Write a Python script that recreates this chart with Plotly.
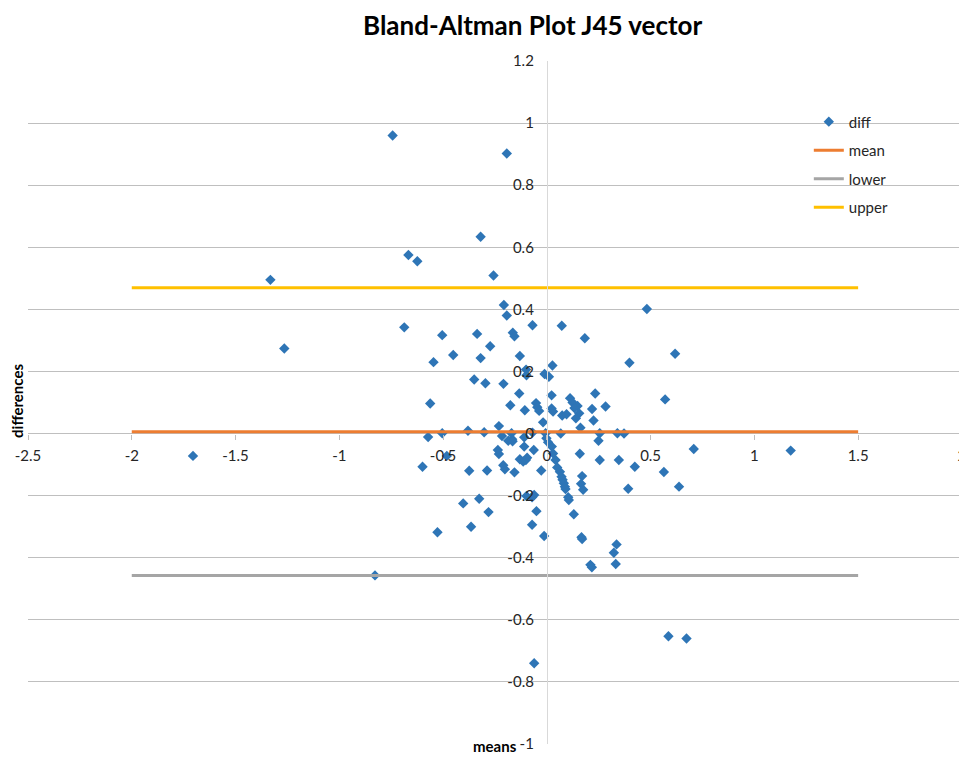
import plotly.graph_objects as go

# Bland-Altman: means (x) vs differences (y)
means = [
    -1.705, -1.332, -1.265, -0.743, -0.828, -0.667, -0.624, -0.193, -0.319, -0.257,
    -0.687, -0.504, -0.546, -0.451, -0.562, -0.336, -0.319, -0.273, -0.350, -0.296,
    -0.209, -0.207, -0.193, -0.164, -0.156, -0.069, -0.130, -0.100, -0.098, -0.133,
    -0.176, -0.106, -0.052, -0.046, -0.037, -0.018, -0.011, -0.231, -0.380, -0.302,
    -0.069, -0.504, -0.572, -0.216, -0.170, 0.482, 0.072, 0.183, 0.618, 0.398,
    0.027, 0.010, 0.023, 0.233, 0.112, 0.124, 0.148, 0.133, 0.218, 0.283,
    0.570, 0.023, 0.030, 0.074, 0.095, 0.156, 0.140, 0.225, 0.162, -0.006,
    0.067, 0.255, 0.340, 0.372, -0.167, -0.186, -0.165, -0.109, -0.002, 0.006,
    0.249, 0.708, -0.482, -0.236, -0.231, -0.109, -0.063, 0.024, 0.030, 0.159,
    0.255, 0.347, -0.130, -0.114, -0.101, -0.095, -0.599, -0.374, -0.288, -0.210,
    -0.202, -0.156, -0.027, 0.042, 0.050, 0.063, 0.170, 0.424, 0.564, 0.071,
    0.076, 0.082, 0.087, 0.090, 0.103, 0.106, 0.130, 0.167, 0.170, 0.210,
    0.217, 0.336, 0.323, 0.332, 0.165, 0.175, 0.392, 0.637, -0.061, -0.071,
    -0.098, -0.050, -0.071, -0.013, -0.326, -0.403, -0.281, -0.365, -0.527, 1.175,
    0.586, 0.673, -0.061,
]
differences = [
    -0.072, 0.495, 0.274, 0.960, -0.457, 0.575, 0.555, 0.902, 0.634, 0.509,
    0.342, 0.317, 0.230, 0.253, 0.097, 0.321, 0.243, 0.281, 0.174, 0.162,
    0.160, 0.414, 0.380, 0.325, 0.313, 0.349, 0.250, 0.206, 0.188, 0.129,
    0.091, 0.075, 0.098, 0.085, 0.073, 0.036, 0.192, 0.024, 0.009, 0.004,
    0.003, 0.001, -0.011, -0.008, 0.001, 0.401, 0.347, 0.307, 0.257, 0.228,
    0.219, 0.183, 0.123, 0.129, 0.114, 0.100, 0.089, 0.082, 0.079, 0.087,
    0.110, 0.081, 0.071, 0.058, 0.062, 0.065, 0.049, 0.042, 0.019, 0.001,
    0.000, 0.001, 0.001, 0.000, -0.018, -0.023, -0.025, -0.012, -0.015, -0.028,
    -0.023, -0.050, -0.072, -0.053, -0.066, -0.042, -0.053, -0.042, -0.064, -0.065,
    -0.085, -0.085, -0.083, -0.090, -0.085, -0.078, -0.107, -0.120, -0.119, -0.102,
    -0.115, -0.125, -0.119, -0.085, -0.109, -0.123, -0.137, -0.107, -0.124, -0.139,
    -0.149, -0.160, -0.171, -0.179, -0.205, -0.214, -0.260, -0.334, -0.340, -0.423,
    -0.431, -0.357, -0.384, -0.420, -0.162, -0.181, -0.178, -0.171, -0.198, -0.205,
    -0.201, -0.250, -0.294, -0.330, -0.210, -0.225, -0.253, -0.300, -0.318, -0.055,
    -0.653, -0.660, -0.740,
]

# reference lines (mean and limits of agreement)
line_x = [-2.0, 1.5]
mean_diff = 0.006
lower_limit = -0.457
upper_limit = 0.470

x_tick_vals = [-2.5, -2, -1.5, -1, -0.5, 0, 0.5, 1, 1.5, 2]
x_tick_text = ["-2.5", "-2", "-1.5", "-1", "-0.5", "0", "0.5", "1", "1.5", "2"]
y_tick_vals = [-1, -0.8, -0.6, -0.4, -0.2, 0, 0.2, 0.4, 0.6, 0.8, 1, 1.2]
y_tick_text = ["-1", "-0.8", "-0.6", "-0.4", "-0.2", "0", "0.2", "0.4", "0.6", "0.8", "1", "1.2"]

FONT = "Lato, 'Open Sans', sans-serif"

fig = go.Figure()
fig.add_trace(go.Scatter(
    x=means, y=differences, mode="markers", name="diff", legendgroup="a",
    marker=dict(symbol="diamond", size=8, color="#2E75B6"),
))
fig.add_trace(go.Scatter(
    x=line_x, y=[mean_diff] * 2, mode="lines", name="mean", legendgroup="b",
    line=dict(color="#ED7D31", width=3),
))
fig.add_trace(go.Scatter(
    x=line_x, y=[lower_limit] * 2, mode="lines", name="lower", legendgroup="c",
    line=dict(color="#A5A5A5", width=3),
))
fig.add_trace(go.Scatter(
    x=line_x, y=[upper_limit] * 2, mode="lines", name="upper", legendgroup="d",
    line=dict(color="#FFC000", width=3),
))

# page body has an 8px margin, so the figure is shifted by 8px;
# height kept so the page does not scroll vertically
fig.update_layout(
    width=959,
    height=749,
    margin=dict(l=20, r=5, t=53, b=13),
    paper_bgcolor="white",
    plot_bgcolor="white",
    font=dict(family=FONT, size=15, color="#262626"),
    showlegend=True,
    legend=dict(
        x=0.836, y=0.935, xanchor="left", yanchor="top",
        bgcolor="rgba(0,0,0,0)", font=dict(size=15, color="#262626"),
        tracegroupgap=6,
    ),
    xaxis=dict(
        range=[-2.5, 2.0005], tickvals=x_tick_vals, ticktext=x_tick_text,
        showgrid=False, zeroline=False, showline=False,
        anchor="free", position=1 / 2.2,
        ticks="outside", ticklen=5, tickcolor="#bfbfbf",
        ticklabelstandoff=3, ticklabeloverflow="allow",
        automargin=False,
    ),
    yaxis=dict(
        range=[-1, 1.2], tickvals=y_tick_vals, ticktext=y_tick_text,
        showgrid=True, gridcolor="#bfbfbf", gridwidth=1,
        zeroline=False, showline=True, linecolor="#d9d9d9", linewidth=1,
        anchor="free", position=2.5 / 4.5,
        ticks="", ticklabelstandoff=10,
        automargin=False,
    ),
    annotations=[
        dict(text="<b>Bland-Altman Plot J45 vector</b>", x=0.54, y=1.053,
             xref="paper", yref="paper", xanchor="center", yanchor="middle",
             showarrow=False, font=dict(size=26, color="black", family=FONT)),
        dict(text="<b>differences</b>", x=-0.012, y=0.502, textangle=-90,
             xref="paper", yref="paper", xanchor="center", yanchor="middle",
             showarrow=False, font=dict(size=15, color="black", family=FONT)),
        dict(text="<b>means</b>", x=0.5, y=-0.019,
             xref="paper", yref="paper", xanchor="center", yanchor="bottom",
             showarrow=False, font=dict(size=15, color="black", family=FONT)),
    ],
)

fig.write_html("out.html")
